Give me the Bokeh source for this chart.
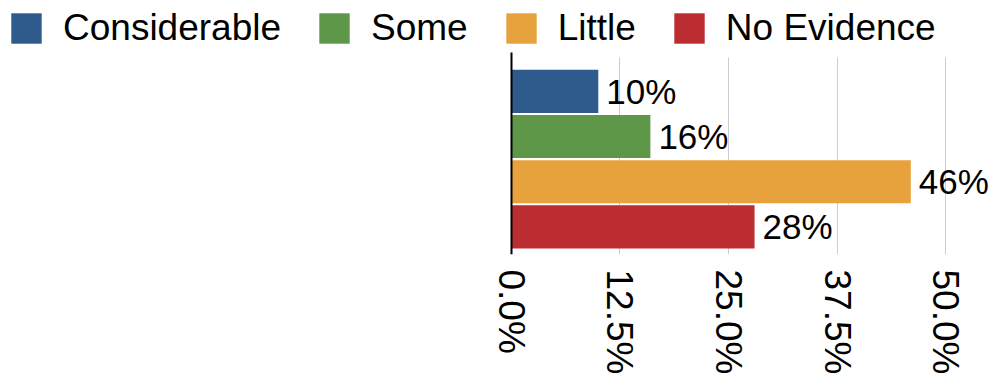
import math
from bokeh.plotting import figure
from bokeh.models import Range1d, FixedTicker, Legend, LegendItem
from bokeh.core.properties import value
from bokeh.embed import file_html
from bokeh.resources import INLINE

categories = ["Considerable", "Some", "Little", "No Evidence"]
values = [10, 16, 46, 28]
colors = ["#2e5a8c", "#5f9748", "#e8a23d", "#bc2d32"]
ticks = [0.0, 12.5, 25.0, 37.5, 50.0]
tick_labels = ["0.0%", "12.5%", "25.0%", "37.5%", "50.0%"]

FONT = "Liberation Sans"
n = len(categories)

p = figure(width=995, height=379, output_backend="svg", toolbar_location=None,
           x_range=Range1d(-58.87, 55.76), y_range=Range1d(-0.611, 5.011),
           min_border_left=0, min_border_right=0, min_border_top=0,
           min_border_bottom=125)
p.outline_line_color = None

items = []
for i, (c, v, col) in enumerate(zip(categories, values, colors)):
    y = n - 1 - i
    r = p.hbar(y=[y], right=[v], left=0, height=0.955, fill_color=col, line_color=None)
    items.append(LegendItem(label=c, renderers=[r]))
    p.text(x=[v], y=[y], text=[f"{v}%"], x_offset=8, text_baseline="middle",
           text_align="left", text_font=value(FONT), text_font_size="35px",
           text_color="black")

# x axis
p.xaxis.ticker = FixedTicker(ticks=ticks)
p.xaxis.major_label_overrides = dict(zip(ticks, tick_labels))
p.xaxis.major_label_orientation = -math.pi / 2
p.xaxis.major_label_text_font = FONT
p.xaxis.major_label_text_font_size = "37px"
p.xaxis.major_label_text_color = "black"
p.xaxis.axis_line_color = None
p.xaxis.major_tick_line_color = None
p.xaxis.minor_tick_line_color = None
p.xaxis.major_tick_out = 0
p.xaxis.major_label_standoff = 15

# y axis drawn at x = 0
p.yaxis.fixed_location = 0
p.yaxis.bounds = (-0.611, 3.856)
p.yaxis.ticker = FixedTicker(ticks=[])
p.yaxis.axis_line_color = "black"
p.yaxis.axis_line_width = 2
p.yaxis.major_tick_line_color = None
p.yaxis.minor_tick_line_color = None
p.yaxis.major_tick_out = 0
p.yaxis.major_label_standoff = 0

p.ygrid.grid_line_color = None
p.xgrid.grid_line_color = "#cccccc"
p.xgrid.grid_line_width = 1
p.xgrid.cross_bounds = (-0.611, 3.744)

legend = Legend(items=items, orientation="horizontal", location=(7, 205),
                glyph_width=38, glyph_height=38, label_standoff=18, spacing=34,
                padding=0, margin=0, border_line_color=None, background_fill_alpha=0,
                label_text_font=FONT, label_text_font_size="37px",
                label_text_color="black", label_text_baseline="middle")
p.add_layout(legend)

open("out.html", "w").write(file_html(p, INLINE))
